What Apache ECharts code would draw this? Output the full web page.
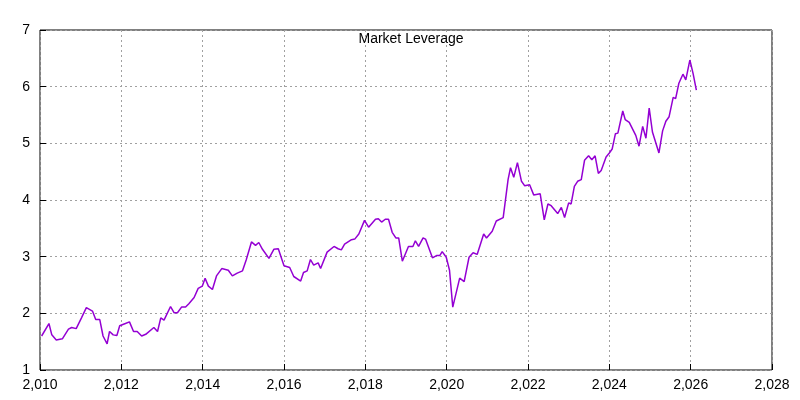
<!DOCTYPE html>
<html><head><meta charset="utf-8">
<script src="https://cdn.jsdelivr.net/npm/echarts@6/dist/echarts.min.js"></script>
<style>html,body{margin:0;padding:0;background:#fff}#c{width:800px;height:400px}</style>
</head><body><div id="c"></div>
<script>
const years = [2010.04,2010.22,2010.29,2010.4,2010.55,2010.7,2010.78,2010.89,2011.02,2011.14,2011.29,2011.37,2011.47,2011.55,2011.65,2011.71,2011.8,2011.89,2011.96,2012.1,2012.2,2012.3,2012.39,2012.5,2012.6,2012.8,2012.89,2012.97,2013.05,2013.21,2013.3,2013.38,2013.48,2013.58,2013.66,2013.79,2013.89,2013.99,2014.06,2014.14,2014.24,2014.34,2014.47,2014.63,2014.73,2014.85,2014.98,2015.07,2015.2,2015.3,2015.38,2015.47,2015.63,2015.75,2015.86,2016.0,2016.14,2016.24,2016.41,2016.48,2016.57,2016.65,2016.73,2016.84,2016.9,2017.06,2017.23,2017.33,2017.41,2017.49,2017.66,2017.74,2017.84,2017.98,2018.08,2018.25,2018.32,2018.4,2018.49,2018.57,2018.66,2018.75,2018.82,2018.91,2019.06,2019.17,2019.23,2019.31,2019.42,2019.48,2019.65,2019.75,2019.83,2019.89,2019.99,2020.07,2020.15,2020.32,2020.43,2020.55,2020.65,2020.75,2020.91,2020.98,2021.12,2021.22,2021.39,2021.51,2021.57,2021.65,2021.74,2021.84,2021.92,2022.04,2022.14,2022.3,2022.4,2022.49,2022.57,2022.73,2022.82,2022.9,2023.0,2023.06,2023.14,2023.22,2023.31,2023.39,2023.49,2023.57,2023.65,2023.73,2023.8,2023.92,2024.0,2024.07,2024.15,2024.21,2024.33,2024.39,2024.49,2024.65,2024.73,2024.82,2024.9,2024.98,2025.06,2025.22,2025.31,2025.39,2025.47,2025.57,2025.63,2025.71,2025.81,2025.88,2025.98,2026.06,2026.14];
const leverage = [1.60,1.82,1.62,1.53,1.55,1.72,1.75,1.73,1.92,2.10,2.04,1.89,1.89,1.60,1.46,1.68,1.62,1.61,1.78,1.82,1.85,1.68,1.68,1.60,1.63,1.75,1.68,1.92,1.88,2.12,2.01,2.01,2.11,2.11,2.17,2.28,2.44,2.48,2.62,2.48,2.42,2.66,2.79,2.76,2.66,2.71,2.75,2.94,3.26,3.20,3.25,3.13,2.97,3.13,3.14,2.84,2.81,2.65,2.57,2.72,2.75,2.95,2.85,2.89,2.79,3.08,3.18,3.14,3.12,3.22,3.30,3.31,3.40,3.64,3.52,3.66,3.67,3.61,3.66,3.66,3.43,3.33,3.33,2.92,3.18,3.18,3.28,3.18,3.33,3.31,2.98,3.02,3.02,3.09,2.99,2.76,2.11,2.62,2.56,2.99,3.07,3.04,3.40,3.33,3.45,3.63,3.69,4.36,4.57,4.40,4.66,4.33,4.25,4.27,4.09,4.11,3.65,3.93,3.90,3.76,3.87,3.69,3.95,3.93,4.24,4.33,4.36,4.70,4.78,4.71,4.78,4.47,4.52,4.76,4.83,4.90,5.17,5.18,5.57,5.42,5.37,5.14,4.95,5.30,5.09,5.62,5.20,4.83,5.22,5.39,5.47,5.81,5.79,6.06,6.22,6.12,6.47,6.23,5.94];
const title = 'Market Leverage';
const chart = echarts.init(document.getElementById('c'));
const font = {fontFamily:'Liberation Sans', fontSize:14, color:'#000'};
const split = {show:true, lineStyle:{color:'#a0a0a0', type:[2,3], width:1}};
chart.setOption({
  animation:false,
  title:{text:title, left:406, top:27, textAlign:'center', textStyle:{fontFamily:'Liberation Sans', fontSize:14, fontWeight:'normal', color:'#000'}},
  grid:{left:40, right:28, top:30, bottom:30, show:true, borderColor:'#000', borderWidth:1},
  xAxis:{type:'value', min:2010, max:2028, interval:2, axisLine:{show:false}, axisTick:{inside:true, length:6, lineStyle:{color:'#000'}}, axisLabel:Object.assign({margin:8, showMaxLabel:true}, font), splitLine:split},
  yAxis:{type:'value', min:1, max:7, interval:1, axisLine:{show:false}, axisTick:{show:true, inside:true, length:6, lineStyle:{color:'#000'}}, axisLabel:Object.assign({margin:10}, font), splitLine:split},
  series:[{type:'line', data:years.map((y,i)=>[y, leverage[i]]), showSymbol:false, lineStyle:{color:'#9400d3', width:1.5}}]
});
</script></body></html>
